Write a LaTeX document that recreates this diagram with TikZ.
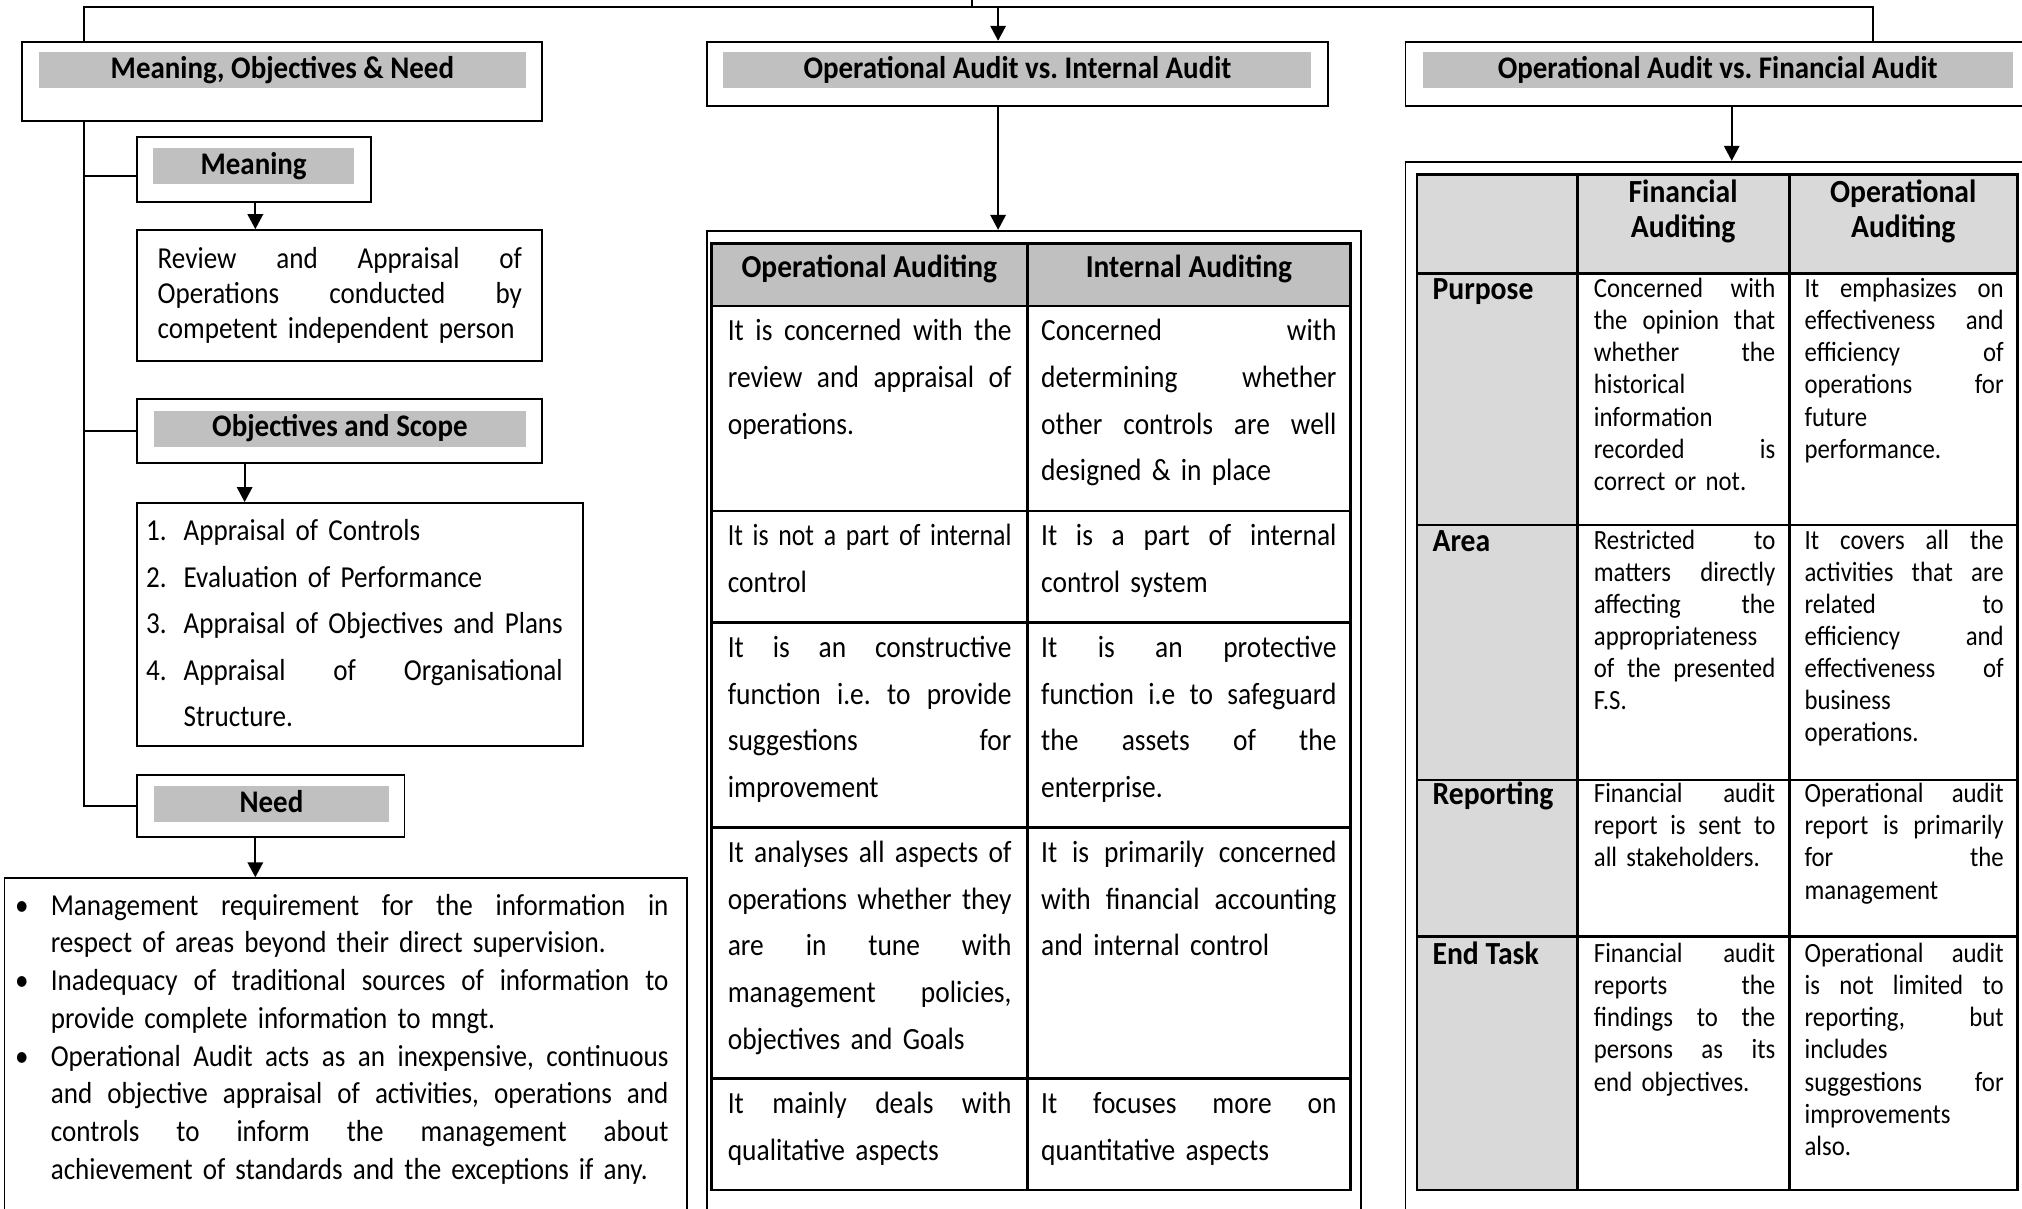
\documentclass[tikz,border=0pt]{standalone}
\usepackage{fontspec}
\usepackage{graphicx}
\setmainfont{Carlito}[UprightFeatures={FakeStretch=0.89},BoldFeatures={FakeStretch=0.92}]
\usetikzlibrary{arrows.meta,fit}
\definecolor{bandgray}{HTML}{C0C0C0}
\definecolor{cellgray}{HTML}{D9D9D9}
% column width of the text block being set
\newlength\colw
\newsavebox\linebox
% one line spread over the whole column (squeezed if it is too long),
% and one line kept at natural width
\newcommand\jline[1]{\leavevmode\sbox\linebox{#1}%
  \ifdim\wd\linebox>\colw\resizebox{\colw}{\height}{\usebox\linebox}%
  \else\hbox to\colw{\spaceskip=\fontdimen2\font plus 1fil\relax#1}\fi}
\newcommand\nline[1]{\leavevmode\hbox{#1}}
\begin{document}
\frenchspacing
\begin{tikzpicture}[x=0.5pt,y=-0.5pt,
  box/.style={draw,line width=0.7pt,inner sep=0pt},
  band/.style={fill=bandgray,inner sep=0pt},
  ttl/.style={anchor=base,inner sep=0pt,font=\fontsize{12.2}{14}\selectfont\bfseries},
  conn/.style={line width=0.7pt},
  arr/.style={conn,-{Triangle[length=5.8pt,width=6pt]}},
  rule/.style={line width=1.1pt},
  cw/.style={text width=#1,execute at begin node={\setlength\colw{#1}}},
  txt/.style={anchor=base west,inner sep=0pt,align=left},
  body/.style={txt,font=\fontsize{11.8}{#1}\selectfont},
  mid/.style={txt,font=\fontsize{11.95}{18.1pt}\selectfont},
  small/.style={txt,font=\fontsize{10.8}{12.45}\selectfont},
  lbl/.style={anchor=base west,inner sep=0pt,font=\fontsize{12.5}{14}\selectfont\bfseries},
  hdr/.style={anchor=base,inner sep=0pt,align=center,text width=80pt,font=\fontsize{12.5}{13.8}\selectfont\bfseries},
  mhdr/.style={anchor=base,inner sep=0pt,font=\fontsize{12.4}{14}\selectfont\bfseries},
  dot/.style={anchor=base,inner sep=0pt,font=\fontsize{11.8}{14}\selectfont},
]
\useasboundingbox (0,0) rectangle (1568,937);
\clip (0,0) rectangle (1568,937);

% ---------- branch headings ----------
\node[box,fit={(17.3,32.3) (420,93.8)}] (b1) {};
\node[band,fit={(30.1,40.6) (407.8,68)}] (b1band) {};
\node[ttl] (b1t) at (219,61) {Meaning, Objectives \& Need};

\node[box,fit={(548,32.3) (1030,82.2)}] (b2) {};
\node[band,fit={(561,40.6) (1017,68)}] (b2band) {};
\node[ttl] (b2t) at (789,61) {Operational Audit vs. Internal Audit};

\node[box,fit={(1089.9,32.3) (1580,82.2)}] (b3) {};
\node[band,fit={(1103.5,40.6) (1561,68)}] (b3band) {};
\node[ttl] (b3t) at (1332,60.5) {Operational Audit vs. Financial Audit};

% ---------- left branch ----------
\node[box,fit={(106,106.2) (287.4,156.4)}] (mb) {};
\node[band,fit={(118.8,114.8) (274.6,142.4)}] (mbband) {};
\node[ttl] (mbt) at (196.7,135) {Meaning};

\node[box,fit={(106,178.4) (420,280.2)}] (rv) {};
\node[body=13.5pt,cw=141.25pt] (rvt) at (121.9,208.5)
  {\jline{Review and Appraisal of}\\ \jline{Operations conducted by}\\ \nline{competent independent person}};

\node[box,fit={(106,309.7) (420,359.3)}] (ob) {};
\node[band,fit={(119.5,318.7) (407.8,346.4)}] (obband) {};
\node[ttl] (obt) at (263.6,338.5) {Objectives and Scope};

\node[box,fit={(106,390) (452.2,578.5)}] (lb) {};
\node[body=18pt,cw=20pt] (lbn) at (113,419.5) {1.\\ 2.\\ 3.\\ 4.};
\node[body=18pt,cw=147pt] (lbt) at (142,419.5)
  {\nline{Appraisal of Controls}\\ \nline{Evaluation of Performance}\\
   \nline{Appraisal of Objectives and Plans}\\ \jline{Appraisal of Organisational}\\
   \nline{Structure.}};

\node[box,fit={(106,601) (313.7,649)}] (nb) {};
\node[band,fit={(119.5,609.6) (301.5,637.2)}] (nbband) {};
\node[ttl] (nbt) at (210.5,630) {Need};

\node[box,fit={(3.5,681) (533,990)}] (bl) {};
\node[dot] (bu1) at (17,709.6) {\textbullet};
\node[dot] (bu2) at (17,768) {\textbullet};
\node[dot] (bu3) at (17,826.7) {\textbullet};
\node[body=14.65pt,cw=239.5pt] (blt) at (39,709.6)
  {\jline{Management requirement for the information in}\\
   \nline{respect of areas beyond their direct supervision.}\\
   \jline{Inadequacy of traditional sources of information to}\\
   \nline{provide complete information to mngt.}\\
   \jline{Operational Audit acts as an inexpensive, continuous}\\
   \jline{and objective appraisal of activities, operations and}\\
   \jline{controls to inform the management about}\\
   \nline{achievement of standards and the exceptions if any.}};

% ---------- middle table ----------
\node[box,fit={(548,178.9) (1055.6,990)}] (t2o) {};
\fill[bandgray] (551.7,188.7) rectangle (1047.5,237.3);
\draw[rule] (551.7,188.7) rectangle (1047.5,922.8);
\draw[rule] (796.5,188.7) -- (796.5,922.8);
\foreach \yy in {237.3,396.3,482.6,641.9,836.2} \draw[rule] (551.7,\yy) -- (1047.5,\yy);

\node[mhdr] (mh1) at (674.1,215.5) {Operational Auditing};
\node[mhdr] (mh2) at (922,215.5) {Internal Auditing};

\node[mid,cw=110pt] (m11) at (564,264.2)
  {\jline{It is concerned with the}\\ \jline{review and appraisal of}\\ \nline{operations.}};
\node[mid,cw=114.5pt] (m12) at (807,264.2)
  {\jline{Concerned with}\\ \jline{determining whether}\\ \jline{other controls are well}\\ \nline{designed \& in place}};
\node[mid,cw=110pt] (m21) at (564,423.2)
  {\jline{It is not a part of internal}\\ \nline{control}};
\node[mid,cw=114.5pt] (m22) at (807,423.2)
  {\jline{It is a part of internal}\\ \nline{control system}};
\node[mid,cw=110pt] (m31) at (564,509.8)
  {\jline{It is an constructive}\\ \jline{function i.e. to provide}\\ \jline{suggestions for}\\ \nline{improvement}};
\node[mid,cw=114.5pt] (m32) at (807,509.8)
  {\jline{It is an protective}\\ \jline{function i.e to safeguard}\\ \jline{the assets of the}\\ \nline{enterprise.}};
\node[mid,cw=110pt] (m41) at (564,668.7)
  {\jline{It analyses all aspects of}\\ \jline{operations whether they}\\ \jline{are in tune with}\\ \jline{management policies,}\\ \nline{objectives and Goals}};
\node[mid,cw=114.5pt] (m42) at (807,668.7)
  {\jline{It is primarily concerned}\\ \jline{with financial accounting}\\ \nline{and internal control}};
\node[mid,cw=110pt] (m51) at (564,863.4)
  {\jline{It mainly deals with}\\ \nline{qualitative aspects}};
\node[mid,cw=114.5pt] (m52) at (807,863.4)
  {\jline{It focuses more on}\\ \nline{quantitative aspects}};

% ---------- right table ----------
\node[box,fit={(1089.9,125.4) (1580,990)}] (t3o) {};
\fill[cellgray] (1098.8,135) rectangle (1564.3,212);
\fill[cellgray] (1098.8,212) rectangle (1223,922.8);
\draw[rule] (1098.8,135) rectangle (1564.3,922.8);
\draw[rule] (1223,135) -- (1223,922.8);
\draw[rule] (1387.4,135) -- (1387.4,922.8);
\foreach \yy in {212,407.1,604.9,726.4} \draw[rule] (1098.8,\yy) -- (1564.3,\yy);

\node[hdr] (rh1) at (1305.2,156.8) {Financial\\ Auditing};
\node[hdr] (rh2) at (1475.9,156.8) {Operational\\ Auditing};

\node[lbl] (rl1) at (1110.5,232.5) {Purpose};
\node[lbl] (rl2) at (1110.5,427.5) {Area};
\node[lbl] (rl3) at (1110.5,624.2) {Reporting};
\node[lbl] (rl4) at (1110.5,748.2) {End Task};

\node[small,cw=70.35pt] (r12) at (1235.6,230.8)
  {\jline{Concerned with}\\ \jline{the opinion that}\\ \jline{whether the}\\ \nline{historical}\\
   \nline{information}\\ \jline{recorded is}\\ \nline{correct or not.}};
\node[small,cw=77.2pt] (r13) at (1399,230.8)
  {\jline{It emphasizes on}\\ \jline{effectiveness and}\\ \jline{efficiency of}\\ \jline{operations for}\\
   \nline{future}\\ \nline{performance.}};
\node[small,cw=70.35pt] (r22) at (1235.6,425.8)
  {\jline{Restricted to}\\ \jline{matters directly}\\ \jline{affecting the}\\ \nline{appropriateness}\\
   \jline{of the presented}\\ \nline{F.S.}};
\node[small,cw=77.2pt] (r23) at (1399,425.8)
  {\jline{It covers all the}\\ \jline{activities that are}\\ \jline{related to}\\ \jline{efficiency and}\\
   \jline{effectiveness of}\\ \nline{business}\\ \nline{operations.}};
\node[small,cw=70.35pt] (r32) at (1235.6,622.5)
  {\jline{Financial audit}\\ \jline{report is sent to}\\ \nline{all stakeholders.}};
\node[small,cw=77.2pt] (r33) at (1399,622.5)
  {\jline{Operational audit}\\ \jline{report is primarily}\\ \jline{for the}\\ \nline{management}};
\node[small,cw=70.35pt] (r42) at (1235.6,746.5)
  {\jline{Financial audit}\\ \jline{reports the}\\ \jline{findings to the}\\ \jline{persons as its}\\
   \nline{end objectives.}};
\node[small,cw=77.2pt] (r43) at (1399,746.5)
  {\jline{Operational audit}\\ \jline{is not limited to}\\ \jline{reporting, but}\\ \nline{includes}\\
   \jline{suggestions for}\\ \nline{improvements}\\ \nline{also.}};

% ---------- connectors ----------
\coordinate (root) at (754,-5);
\coordinate (hub) at (754,5.2);
\coordinate (sx1) at (65.1,0);
\coordinate (sx3) at (1452.6,0);
\coordinate (ax2) at (774,0);
\coordinate (ax3) at (1342.9,0);
\coordinate (axm) at (198,0);
\coordinate (axo) at (189.7,0);
\coordinate (jm) at (65.1,136.2);

\draw[conn] (root) -- (hub);
\draw[conn] (b1.north -| sx1) |- (hub) -| (b3.north -| sx3);
\draw[arr] (hub -| ax2) -- (b2.north -| ax2);

\draw[conn] (b1.south -| sx1) |- (nb.west);
\draw[conn] (jm) -- (jm -| mb.west);
\draw[conn] (sx1 |- ob.west) -- (ob.west);
\draw[arr] (mb.south -| axm) -- (rv.north -| axm);
\draw[arr] (ob.south -| axo) -- (lb.north -| axo);
\draw[arr] (nb.south -| axm) -- (bl.north -| axm);

\draw[arr] (b2.south -| ax2) -- (t2o.north -| ax2);
\draw[arr] (b3.south -| ax3) -- (t3o.north -| ax3);
\end{tikzpicture}
\end{document}
